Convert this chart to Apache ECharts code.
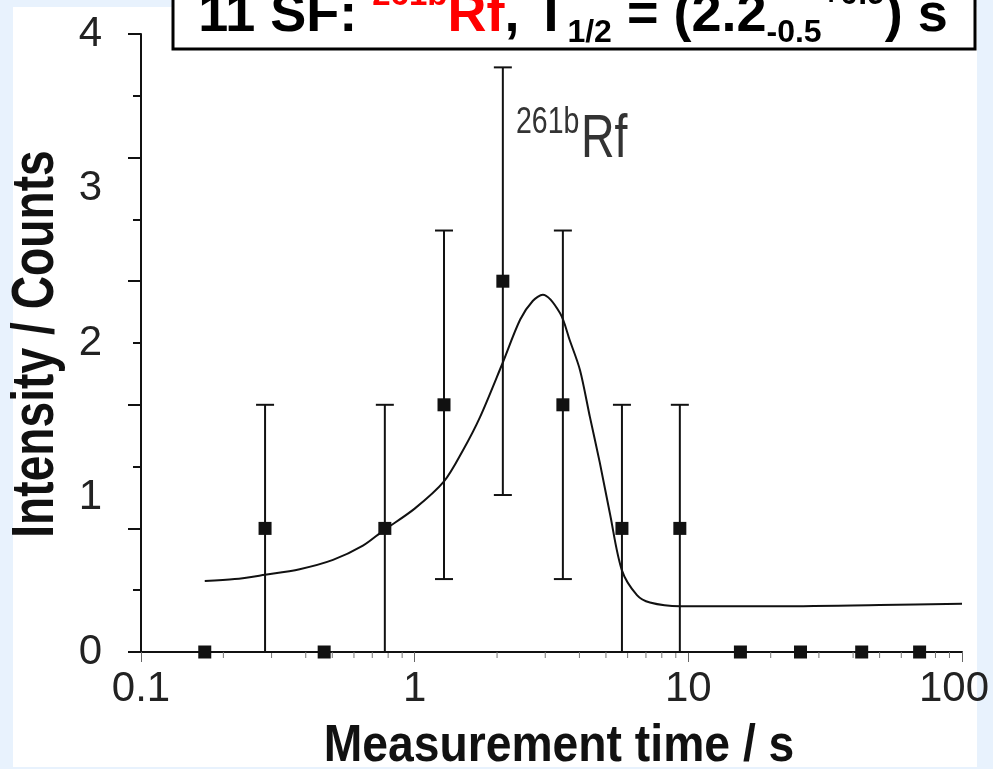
<!doctype html>
<html style="height: 100%">
<head>
<meta charset="utf-8">
<title>261bRf SF decay</title>
</head>
<body style="height: 100%; margin: 0; background: #e8f2fd">
<div id="container" style="width: 993px; height: 769px"></div>
<script type="text/javascript" src="https://cdn.jsdelivr.net/npm/echarts@6/dist/echarts.min.js"></script>
<script>
// measured counts per time bin (log-spaced bins)
var times = [0.171, 0.284, 0.467, 0.778, 1.28, 2.10, 3.48, 5.72, 9.31, 15.5, 25.7, 43.0, 70.0];
var counts = [0, 1, 0, 1, 2, 3, 2, 1, 1, 0, 0, 0, 0];
var errLow = [0, 0, 0, 0, 0.59, 1.27, 0.59, 0, 0, 0, 0, 0, 0];
var errHigh = [0, 2, 0, 2, 3.41, 4.73, 3.41, 2, 2, 0, 0, 0, 0];

// fitted decay curve
var fitT = [0.171, 0.22, 0.284, 0.38, 0.503, 0.647, 0.766, 1.0, 1.28, 1.5, 1.733, 2.08, 2.43, 2.7, 2.94,
            3.4, 3.69, 4.02, 4.37, 4.75, 5.17, 5.72, 6.49, 7.24, 9.31, 20, 50, 100];
var fitY = [0.575, 0.59, 0.625, 0.67, 0.745, 0.86, 0.98, 1.16, 1.38, 1.63, 1.90, 2.32, 2.69, 2.84, 2.89,
            2.74, 2.52, 2.28, 1.90, 1.53, 1.12, 0.66, 0.46, 0.40, 0.37, 0.37, 0.38, 0.39];

// y tick labels as printed on the figure (they are spread evenly over the frame)
var yLabels = ['0', '1', '2', '3', '4'];
var xMinorTicks = [];
[0.1, 1, 10].forEach(function (d) {
  for (var k = 2; k <= 9; k++) xMinorTicks.push(+(d * k).toFixed(3));
});

var ink = '#111';
var sans = '"Liberation Sans", Arial, sans-serif';

var dom = document.getElementById('container');
var myChart = echarts.init(dom);

var points = [];
var bars = [];
for (var i = 0; i < times.length; i++) {
  points.push([times[i], counts[i]]);
  if (errHigh[i] > 0) bars.push([times[i], errLow[i], errHigh[i]]);
}
var fit = [];
for (var j = 0; j < fitT.length; j++) fit.push([fitT[j], fitY[j]]);

function drawBar(params, api) {
  var x = api.value(0);
  var lo = api.coord([x, api.value(1)]);
  var hi = api.coord([x, api.value(2)]);
  var st = { stroke: ink, lineWidth: 2 };
  return {
    type: 'group',
    children: [
      { type: 'line', shape: { x1: lo[0], y1: lo[1], x2: hi[0], y2: hi[1] }, style: st },
      { type: 'line', shape: { x1: hi[0] - 9, y1: hi[1], x2: hi[0] + 9, y2: hi[1] }, style: st },
      { type: 'line', shape: { x1: lo[0] - 9, y1: lo[1], x2: lo[0] + 9, y2: lo[1] }, style: st }
    ]
  };
}

function drawMinorTick(params, api) {
  var p = api.coord([api.value(0), 0]);
  return { type: 'line', shape: { x1: p[0], y1: p[1], x2: p[0], y2: p[1] + 6 },
           style: { stroke: '#777', lineWidth: 1 } };
}

var option = {
  backgroundColor: '#e8f2fd',
  animation: false,
  grid: { left: 141, right: 31, top: 34, bottom: 117, outerBoundsMode: 'none', containLabel: false },
  xAxis: {
    type: 'log',
    logBase: 10,
    min: 0.1,
    max: 100,
    axisLine: { lineStyle: { color: ink, width: 2 } },
    axisTick: { length: 10, lineStyle: { color: '#666', width: 1 } },
    axisLabel: {
      fontFamily: sans, fontSize: 42, color: '#222', margin: 16,
      formatter: function (v) {
        var s = String(+v.toPrecision(3));
        return v >= 100 ? '{end|' + s + '}' : s;
      },
      rich: { end: { fontFamily: sans, fontSize: 42, color: '#222', padding: [0, 16, 0, 0] } }
    },
    splitLine: { show: false }
  },
  yAxis: [{
    type: 'value',
    min: 0,
    max: 5,
    interval: 1,
    axisLine: { show: true, lineStyle: { color: ink, width: 2 } },
    axisTick: { show: true, length: 13, lineStyle: { color: ink, width: 2 } },
    minorTick: { show: true, splitNumber: 2, length: 8, lineStyle: { color: ink, width: 2 } },
    axisLabel: { show: false },
    splitLine: { show: false }
  }, {
    type: 'value',
    position: 'left',
    min: 0,
    max: 4,
    interval: 1,
    axisLine: { show: false },
    axisTick: { show: false },
    axisLabel: {
      fontFamily: sans, fontSize: 42, color: '#222', margin: 39,
      formatter: function (v) { return yLabels[v]; }
    },
    splitLine: { show: false }
  }],
  graphic: [
    { type: 'rect', z: -100, silent: true, shape: { x: 13, y: 7, width: 964, height: 760 },
      style: { fill: '#fff' } },
    // axis titles (condensed bold, as in the figure)
    { type: 'text', x: 36, y: 344, rotation: Math.PI / 2, scaleX: 0.77,
      style: { text: 'Intensity / Counts', font: 'bold 60px ' + sans, fill: ink,
               align: 'center', verticalAlign: 'middle' } },
    { type: 'text', x: 559, y: 747, scaleX: 0.89,
      style: { text: 'Measurement time / s', font: 'bold 52px ' + sans, fill: ink,
               align: 'center', verticalAlign: 'middle' } },
    // title box
    { type: 'rect', z: 50, shape: { x: 173, y: -20, width: 802, height: 69 },
      style: { fill: '#fff', stroke: '#000', lineWidth: 3 } },
    { type: 'text', z: 51, x: 573, y: -24,
      style: {
        text: '{b|11 SF: }{rs|261b}{r|Rf}{b|, T}{sub|1/2}{b| = (2.2}{sub|-0.5}{sup|+0.9}{b|) s}',
        align: 'center', verticalAlign: 'top',
        rich: {
          b: { fontFamily: sans, fontWeight: 'bold', fontSize: 54, lineHeight: 81, fill: '#000' },
          r: { fontFamily: sans, fontWeight: 'bold', fontSize: 54, lineHeight: 81, fill: '#f00' },
          rs: { fontFamily: sans, fontWeight: 'bold', fontSize: 33, lineHeight: 20, verticalAlign: 'top',
                padding: [3, 0, 0, 0], fill: '#f00' },
          sup: { fontFamily: sans, fontWeight: 'bold', fontSize: 32, lineHeight: 20, verticalAlign: 'top',
                 padding: [3, 0, 0, 0], fill: '#000' },
          sub: { fontFamily: sans, fontWeight: 'bold', fontSize: 32, lineHeight: 20, verticalAlign: 'bottom',
                 padding: [0, 0, 8, 0], fill: '#000' }
        }
      } },
    // nuclide label next to the peak
    { type: 'text', z: 51, x: 516, y: 123, scaleX: 0.77,
      style: { text: '261b', font: '37px ' + sans, fill: '#333', align: 'left', verticalAlign: 'middle' } },
    { type: 'text', z: 51, x: 581, y: 140, scaleX: 0.75,
      style: { text: 'Rf', font: '62px ' + sans, fill: '#333', align: 'left', verticalAlign: 'middle' } }
  ],
  series: [{
    name: 'minorTicks',
    type: 'custom',
    yAxisIndex: 0,
    clip: false,
    silent: true,
    renderItem: drawMinorTick,
    data: xMinorTicks.map(function (v) { return [v]; })
  }, {
    name: 'errors',
    type: 'custom',
    yAxisIndex: 0,
    clip: false,
    renderItem: drawBar,
    encode: { x: 0, y: [1, 2] },
    data: bars
  }, {
    name: 'fit',
    type: 'line',
    yAxisIndex: 0,
    data: fit,
    showSymbol: false,
    smooth: 0.3,
    lineStyle: { color: ink, width: 2 },
    z: 3
  }, {
    name: 'counts',
    type: 'scatter',
    yAxisIndex: 0,
    data: points,
    symbol: 'rect',
    symbolSize: 13,
    itemStyle: { color: ink, opacity: 1 },
    z: 4
  }]
};

myChart.setOption(option);
</script>
</body>
</html>
